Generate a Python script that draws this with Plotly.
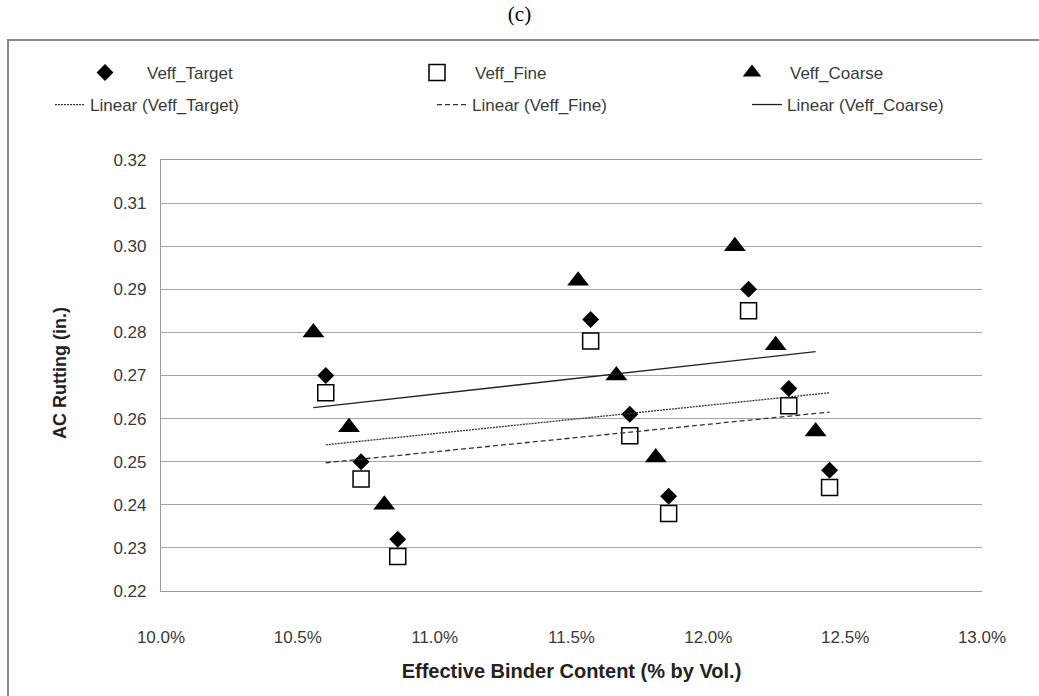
import numpy as np
import plotly.graph_objects as go

# ---- data (binder content as fraction, rutting in inches) ----
target_x = [0.10602, 0.10731, 0.10865, 0.11570, 0.11713, 0.11855, 0.12147, 0.12294, 0.12443]
target_y = [0.270, 0.250, 0.232, 0.283, 0.261, 0.242, 0.290, 0.267, 0.248]
fine_x = [0.10602, 0.10731, 0.10865, 0.11570, 0.11713, 0.11855, 0.12147, 0.12294, 0.12443]
fine_y = [0.266, 0.246, 0.228, 0.278, 0.256, 0.238, 0.285, 0.263, 0.244]
coarse_x = [0.10557, 0.10687, 0.10816, 0.11524, 0.11664, 0.11808, 0.12097, 0.12246, 0.12392]
coarse_y = [0.280, 0.258, 0.240, 0.292, 0.270, 0.251, 0.300, 0.277, 0.257]

x_ticks = [0.100, 0.105, 0.110, 0.115, 0.120, 0.125, 0.130]
y_ticks = [0.22, 0.23, 0.24, 0.25, 0.26, 0.27, 0.28, 0.29, 0.30, 0.31, 0.32]

W, H = 1039, 696
ML, MR, MT, MB = 161, 57, 160, 105
FONT = "Liberation Sans, Arial, sans-serif"
TXT = "#3a3a3a"


def trend(xs, ys):
    a, b = np.polyfit(xs, ys, 1)
    xe = np.array([min(xs), max(xs)])
    return xe, a * xe + b


fig = go.Figure()

fig.add_trace(go.Scatter(x=target_x, y=target_y, mode="markers", name="Veff_Target",
                         marker=dict(symbol="diamond", size=13, color="black"),
                         legend="legend"))
fig.add_trace(go.Scatter(x=fine_x, y=fine_y, mode="markers", name="Veff_Fine",
                         marker=dict(symbol="square", size=16, color="white",
                                     line=dict(color="black", width=1.5)),
                         legend="legend2"))
fig.add_trace(go.Scatter(x=coarse_x, y=coarse_y, mode="markers", name="Veff_Coarse",
                         marker=dict(symbol="triangle-up", size=19, color="black"),
                         legend="legend3"))

tx, ty = trend(target_x, target_y)
fx, fy = trend(fine_x, fine_y)
cx, cy = trend(coarse_x, coarse_y)
fig.add_trace(go.Scatter(x=tx, y=ty, mode="lines", name="Linear (Veff_Target)",
                         line=dict(color="#333333", width=1.3, dash="2px,1px"),
                         legend="legend4"))
fig.add_trace(go.Scatter(x=fx, y=fy, mode="lines", name="Linear (Veff_Fine)",
                         line=dict(color="#333333", width=1.3, dash="5px,3px"),
                         legend="legend5"))
fig.add_trace(go.Scatter(x=cx, y=cy, mode="lines", name="Linear (Veff_Coarse)",
                         line=dict(color="#222222", width=1.3),
                         legend="legend6"))


def leg(px, py, iw=30):
    return dict(x=px / W, y=1 - py / H, xref="container", yref="container",
                xanchor="left", yanchor="middle", bgcolor="rgba(0,0,0,0)",
                borderwidth=0, itemwidth=iw,
                font=dict(family=FONT, size=17, color=TXT))


def px2x(p):
    return (p - ML) / (W - ML - MR)


def py2y(p):
    return (H - MB - p) / (H - MT - MB)


fig.update_layout(
    width=W, height=H,
    margin=dict(l=ML, r=MR, t=MT, b=MB, autoexpand=False),
    paper_bgcolor="white", plot_bgcolor="white",
    showlegend=True,
    legend=leg(63, 73, 74),
    legend2=leg(399, 73, 66),
    legend3=leg(714, 73, 66),
    legend4=leg(50, 105),
    legend5=leg(432, 105),
    legend6=leg(747, 105),
    title=dict(text="(c)", x=0.5, xanchor="center", y=1 - 14 / H, yanchor="middle",
               xref="container", yref="container",
               font=dict(family="Liberation Serif, Times New Roman, serif", size=21, color="black")),
    xaxis=dict(range=[0.10, 0.13], tickvals=x_ticks, tickformat=".1%",
               showgrid=False, zeroline=False, showline=True, mirror=True,
               linecolor="#9a9a9a", linewidth=1.2, ticks="",
               ticklabelstandoff=30,
               tickfont=dict(family=FONT, size=17, color=TXT),
               title=dict(text="<b>Effective Binder Content (% by Vol.)</b>", standoff=18,
                          font=dict(family=FONT, size=20, color="#222222"))),
    yaxis=dict(range=[0.22, 0.32], tickvals=y_ticks, tickformat=".2f",
               showgrid=True, gridcolor="#a6a6a6", gridwidth=1.2, zeroline=False,
               showline=True, linecolor="#9a9a9a", linewidth=1.2, ticks="",
               ticklabelstandoff=10,
               tickfont=dict(family=FONT, size=17, color=TXT)),
    annotations=[dict(text="<b>AC Rutting (in.)</b>", textangle=-90,
                      xref="paper", yref="paper", x=px2x(60), y=py2y(373),
                      xanchor="center", yanchor="middle", showarrow=False,
                      font=dict(family=FONT, size=18, color="#222222"))],
)

# outer chart frame (decoration)
fig.add_shape(type="rect", xref="paper", yref="paper",
              x0=px2x(8), x1=px2x(1060), y0=py2y(720), y1=py2y(40),
              line=dict(color="#8a8a8a", width=2), fillcolor="rgba(0,0,0,0)", layer="below")

fig.write_html("out.html")
